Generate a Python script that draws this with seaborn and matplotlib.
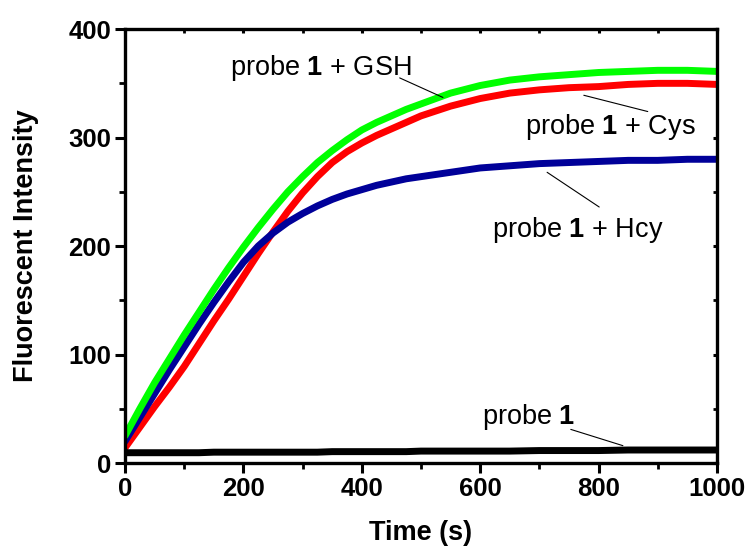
import numpy as np
import pandas as pd
import matplotlib
matplotlib.use("Agg")
import matplotlib.pyplot as plt
import seaborn as sns
from matplotlib.ticker import MultipleLocator

# ---- data ----
time_s = [0, 25, 50, 75, 100, 125, 150, 175, 200, 225, 250, 275, 300,
          325, 350, 375, 400, 425, 450, 475, 500,
          550, 600, 650, 700, 750, 800, 850, 900, 950, 1000]
gsh = [25, 50, 74, 96, 118, 139, 160, 180, 199, 217, 234, 250, 264,
       277, 288, 298, 307, 314, 320, 326, 331,
       341, 348, 353, 356, 358, 360, 361, 362, 362, 361]
cys = [14, 33, 52, 70, 89, 110, 131, 151, 172, 193, 213, 232, 249,
       264, 277, 287, 295, 302, 308, 314, 320,
       329, 336, 341, 344, 346, 347, 349, 350, 350, 349]
hcy = [20, 42, 64, 86, 107, 128, 148, 167, 185, 200, 212, 222, 230,
       237, 243, 248, 252, 256, 259, 262, 264,
       268, 272, 274, 276, 277, 278, 279, 279, 280, 280]
probe = [9.5, 9.5, 9.5, 9.5, 9.5, 9.5, 10, 10, 10, 10, 10, 10, 10,
         10, 10.5, 10.5, 10.5, 10.5, 10.5, 10.5, 11,
         11, 11, 11, 11.5, 11.5, 11.5, 12, 12, 12, 12]

series_names = ["Cys", "Hcy", "GSH", "probe"]
series_vals = {"Cys": cys, "Hcy": hcy, "GSH": gsh, "probe": probe}
palette = {"Cys": "#FF0000", "Hcy": "#000099", "GSH": "#00FF00", "probe": "#000000"}

# annotation labels: (text, text x, text y, line start, line end)
labels = [
    (r"probe $\mathbf{1}$ + GSH", 331, 364, (464, 355), (537, 337)),
    (r"probe $\mathbf{1}$ + Cys", 819, 310, (775, 339), (883, 324)),
    (r"probe $\mathbf{1}$ + Hcy", 765, 215, (713, 268), (801, 236)),
    (r"probe $\mathbf{1}$", 682, 42, (753, 31), (841, 16)),
]

rows = []
for name in series_names:
    for t, v in zip(time_s, series_vals[name]):
        rows.append({"Time": t, "Intensity": v, "Series": name})
df = pd.DataFrame(rows)

sns.set_theme(style="ticks")
plt.rcParams["font.family"] = ["Liberation Sans", "DejaVu Sans"]
plt.rcParams["mathtext.fontset"] = "custom"
plt.rcParams["mathtext.rm"] = "Liberation Sans"
plt.rcParams["mathtext.bf"] = "Liberation Sans:bold"
for key in ["text.color", "axes.labelcolor", "xtick.color", "ytick.color",
            "axes.edgecolor"]:
    plt.rcParams[key] = "black"

fig = plt.figure(figsize=(7.49, 5.49), dpi=100)
ax = fig.add_axes([0.1669, 0.1566, 0.7904, 0.7904])

sns.lineplot(data=df, x="Time", y="Intensity", hue="Series",
             hue_order=series_names, palette=palette, linewidth=5.0,
             legend=False, ax=ax)

ax.set_xlim(0, 1000)
ax.set_ylim(0, 400)
ax.xaxis.set_major_locator(MultipleLocator(200))
ax.xaxis.set_minor_locator(MultipleLocator(100))
ax.yaxis.set_major_locator(MultipleLocator(100))
ax.yaxis.set_minor_locator(MultipleLocator(50))

for sp in ax.spines.values():
    sp.set_linewidth(2.4)
    sp.set_color("black")
    sp.set_visible(True)

ax.tick_params(which="major", direction="out", length=7, width=2.2,
               labelsize=18.5, color="black", labelcolor="black", pad=3)
ax.tick_params(which="minor", direction="out", length=4, width=2.0, color="black")
ax.tick_params(which="both", top=True, right=True)
for lab in ax.get_xticklabels() + ax.get_yticklabels():
    lab.set_fontweight("bold")

# top/right ticks inward and short
for tick in ax.xaxis.get_major_ticks() + ax.xaxis.get_minor_ticks():
    tick.tick2line.set_markersize(3)
    tick.tick2line.set_marker(3)
for tick in ax.yaxis.get_major_ticks() + ax.yaxis.get_minor_ticks():
    tick.tick2line.set_markersize(3)
    tick.tick2line.set_marker(0)

ax.set_xlabel("Time (s)", fontsize=19.5, fontweight="bold", labelpad=14)
ax.set_ylabel("Fluorescent Intensity", fontsize=19.5, fontweight="bold", labelpad=21)

for txt, tx, ty, p0, p1 in labels:
    ax.text(tx, ty, txt, fontsize=19.5, ha="center", va="center", color="black")
    ax.plot([p0[0], p1[0]], [p0[1], p1[1]], color="black", lw=0.8)

fig.savefig("out.png", dpi=100)
